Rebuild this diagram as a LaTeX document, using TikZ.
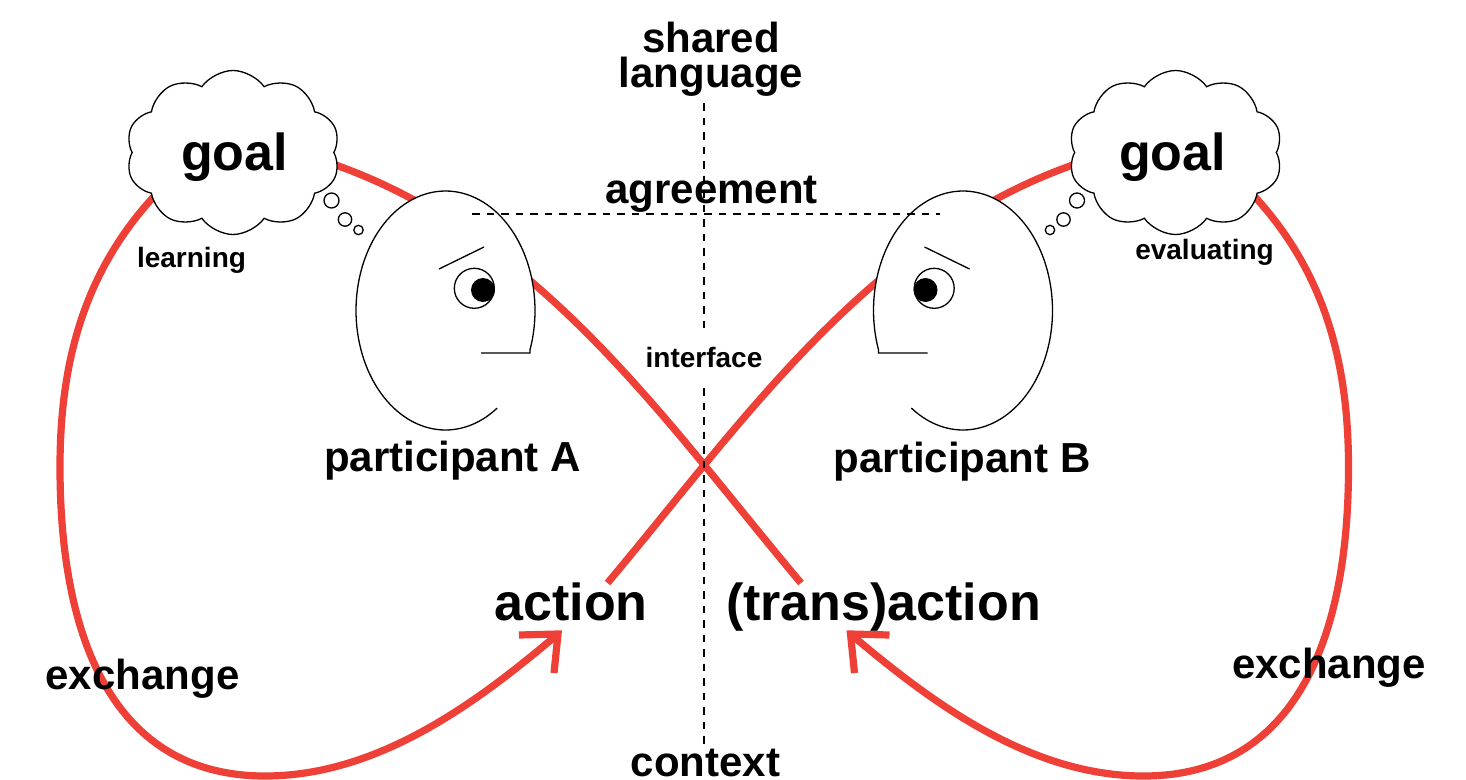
\documentclass[tikz,border=0pt]{standalone}
\usepackage{fontspec}
\setmainfont{Liberation Sans}
\usetikzlibrary{shapes.symbols}
\definecolor{myred}{RGB}{238,64,54}
\begin{document}
\begin{tikzpicture}[x=1pt,y=-1pt,
  redline/.style={draw=myred,line width=7.2pt},
  ink/.style={draw=black,line width=1.3pt},
  dashln/.style={draw=black,line width=1.6pt,dash pattern=on 7.5pt off 7pt},
  bigtxt/.style={font=\bfseries\fontsize{52}{60}\selectfont,inner sep=0pt,anchor=base},
  midtxt/.style={font=\bfseries\fontsize{42}{35}\selectfont,inner sep=0pt,anchor=base},
  smalltxt/.style={font=\bfseries\fontsize{28}{32}\selectfont,inner sep=0pt,anchor=base},
  cloudshape/.style={cloud,draw=black,line width=1.3pt,fill=white,cloud puffs=10,cloud puff arc=110,aspect=1.3,minimum width=214pt,minimum height=164pt,inner sep=0pt},
  bubble/.style={ink,fill=white}
]
\fill[white] (0,0) rectangle (1466,779);
\useasboundingbox (0,0) rectangle (1466,779);

% key points
\coordinate (startA) at (330,163);
\coordinate (endA) at (801,583);
\coordinate (startB) at (1078.5,163);
\coordinate (endB) at (607.5,583);
\coordinate (loopAs) at (160,190);
\coordinate (loopAl) at (60,467);
\coordinate (loopAb) at (265,776);
\coordinate (tipA) at (558,634);
\coordinate (loopBs) at (1248.5,190);
\coordinate (loopBl) at (1348.5,467);
\coordinate (loopBb) at (1143.5,776);
\coordinate (tipB) at (850.5,634);

% red connectors
\draw[redline] (startA) .. controls (540,235) and (668,425) .. (endA);
\draw[redline] (startB) .. controls (868.5,235) and (740.5,425) .. (endB);
\draw[redline] (loopAs) .. controls (85,268) and (60,360) .. (loopAl)
  .. controls (60,650) and (120,776) .. (loopAb)
  .. controls (380,776) and (480,700) .. (tipA);
\draw[redline,line join=miter] (tipA) ++(-39,1) -- (tipA) -- ++(-4,39);
\draw[redline] (loopBs) .. controls (1323.5,268) and (1348.5,360) .. (loopBl)
  .. controls (1348.5,650) and (1288.5,776) .. (loopBb)
  .. controls (1028.5,776) and (928.5,700) .. (tipB);
\draw[redline,line join=miter] (tipB) ++(39,1) -- (tipB) -- ++(4,39);

% clouds
\node[cloudshape] (cloudA) at (233,152.5) {};
\node[cloudshape] (cloudB) at (1175.5,152.5) {};

% heads
\path[ink,fill=white] plot[domain=54.7:379.3,samples=120,variable=\t]
  ({445.5+89.5*cos(\t)},{310.5+119.5*sin(\t)}) -- (530,353) -- (481,353);
\path[ink,fill=white] plot[domain=54.7:379.3,samples=120,variable=\t]
  ({963-89.5*cos(\t)},{310.5+119.5*sin(\t)}) -- (878.5,353) -- (927.5,353);

% eyes and brows
\draw[ink,fill=white] (474.3,288.3) circle[radius=20pt];
\fill (483,290) circle[radius=12pt];
\draw[ink] (439,269) -- (484,247);
\draw[ink,fill=white] (934.2,288.3) circle[radius=20pt];
\fill (925.5,290) circle[radius=12pt];
\draw[ink] (924.5,247) -- (969.5,269);

% thought bubbles
\draw[bubble] (331.5,200.5) circle[radius=7.5pt];
\draw[bubble] (345,219.5) circle[radius=6.7pt];
\draw[bubble] (358.5,230) circle[radius=4.7pt];
\draw[bubble] (1077,200.5) circle[radius=7.5pt];
\draw[bubble] (1063.5,219.5) circle[radius=6.7pt];
\draw[bubble] (1050,230) circle[radius=4.7pt];

% dashed axes
\coordinate (vtop) at (704,103);
\coordinate (gapt) at (704,335);
\coordinate (gapb) at (704,388);
\coordinate (vbot) at (704,745);
\coordinate (hl) at (472,214);
\coordinate (hr) at (940,214);
\draw[dashln] (vtop) -- (gapt);
\draw[dashln] (gapb) -- (vbot);
\draw[dashln] (hl) -- (hr);

% texts
\node[midtxt,align=center,anchor=north] (sharedlang) at (711,22) {shared\\language};
\node[bigtxt] (goalA) at (234.5,170) {goal};
\node[bigtxt] (goalB) at (1172.5,170) {goal};
\node[midtxt] (agreement) at (711.5,203) {agreement};
\node[smalltxt] (learning) at (191.5,267) {learning};
\node[smalltxt] (evaluating) at (1204.5,259) {evaluating};
\node[smalltxt] (interface) at (704,367) {interface};
\node[midtxt] (partA) at (452.5,471) {participant A};
\node[midtxt] (partB) at (962,472) {participant B};
\node[bigtxt] (action) at (571,620) {action};
\node[bigtxt] (transaction) at (883.5,620) {(trans)action};
\node[midtxt] (exchA) at (142.5,689) {exchange};
\node[midtxt] (exchB) at (1329,678) {exchange};
\node[midtxt] (context) at (705.5,776) {context};
\end{tikzpicture}
\end{document}
